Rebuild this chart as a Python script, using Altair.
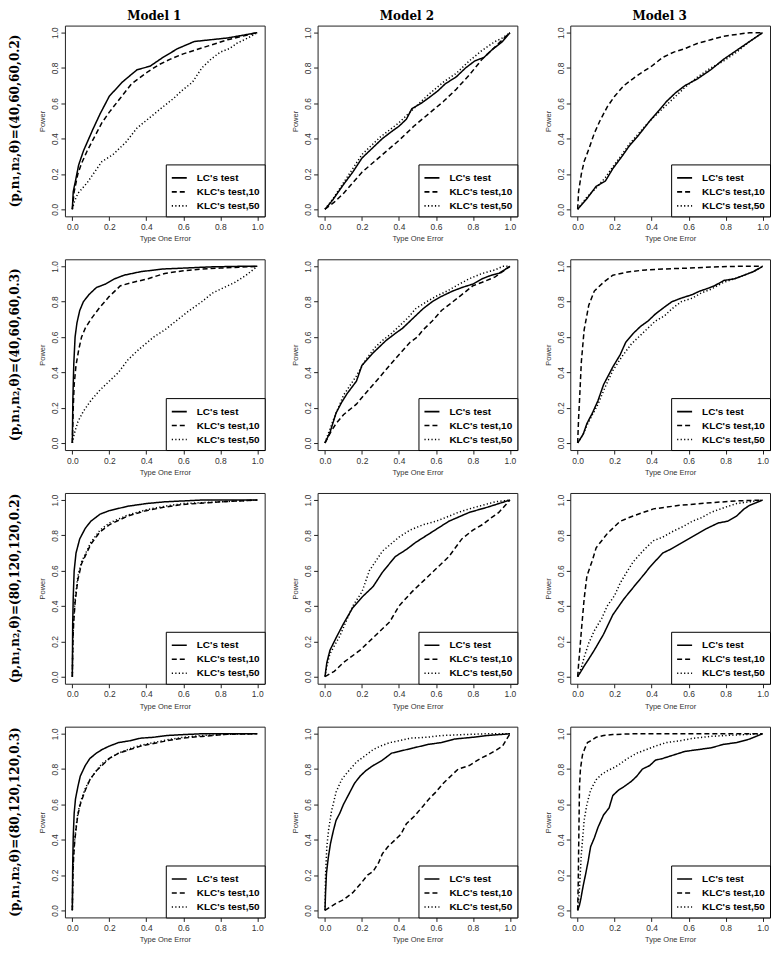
import altair as alt
import pandas as pd

TESTS = ["LC's test", "KLC's test,10", "KLC's test,50"]
MODELS = ["Model 1", "Model 2", "Model 3"]
SETTINGS = [
    "(p,n\u2081,n\u2082,\u03b8)=(40,60,60,0.2)",
    "(p,n\u2081,n\u2082,\u03b8)=(40,60,60,0.3)",
    "(p,n\u2081,n\u2082,\u03b8)=(80,120,120,0.2)",
    "(p,n\u2081,n\u2082,\u03b8)=(80,120,120,0.3)",
]
TICKS = [0.0, 0.2, 0.4, 0.6, 0.8, 1.0]

# ---------------- Row 1, Model 1 ----------------
R1M1_LC_X = [0, 0.005, 0.017, 0.034, 0.06, 0.085, 0.11, 0.15, 0.2, 0.27, 0.35, 0.42, 0.49, 0.57, 0.66, 0.75, 0.84, 0.92, 1]
R1M1_LC_Y = [0, 0.1, 0.16, 0.25, 0.33, 0.39, 0.45, 0.54, 0.64, 0.72, 0.79, 0.81, 0.86, 0.91, 0.95, 0.96, 0.97, 0.985, 1]
R1M1_K10_X = [0, 0.01, 0.03, 0.05, 0.08, 0.12, 0.16, 0.2, 0.26, 0.32, 0.41, 0.47, 0.53, 0.6, 0.66, 0.75, 0.84, 0.92, 1]
R1M1_K10_Y = [0, 0.1, 0.2, 0.26, 0.33, 0.41, 0.49, 0.55, 0.63, 0.71, 0.78, 0.82, 0.85, 0.88, 0.9, 0.93, 0.96, 0.98, 1]
R1M1_K50_X = [0, 0.01, 0.03, 0.08, 0.12, 0.16, 0.22, 0.29, 0.35, 0.42, 0.49, 0.55, 0.59, 0.65, 0.7, 0.75, 0.8, 0.85, 0.89, 0.95, 1]
R1M1_K50_Y = [0, 0.04, 0.09, 0.15, 0.21, 0.27, 0.31, 0.38, 0.46, 0.52, 0.58, 0.63, 0.67, 0.72, 0.8, 0.85, 0.89, 0.91, 0.94, 0.97, 1]

# ---------------- Row 1, Model 2 ----------------
R1M2_LC_X = [0, 0.04, 0.1, 0.15, 0.2, 0.25, 0.31, 0.36, 0.4, 0.44, 0.47, 0.52, 0.56, 0.61, 0.65, 0.71, 0.76, 0.81, 0.86, 0.9, 0.96, 1]
R1M2_LC_Y = [0, 0.05, 0.14, 0.21, 0.29, 0.34, 0.4, 0.44, 0.47, 0.51, 0.57, 0.6, 0.63, 0.67, 0.71, 0.75, 0.8, 0.84, 0.86, 0.9, 0.95, 1]
R1M2_K10_X = [0, 0.05, 0.1, 0.15, 0.2, 0.3, 0.4, 0.48, 0.56, 0.64, 0.71, 0.78, 0.85, 0.92, 1]
R1M2_K10_Y = [0, 0.04, 0.09, 0.15, 0.21, 0.3, 0.39, 0.47, 0.54, 0.61, 0.68, 0.76, 0.85, 0.92, 1]
R1M2_K50_X = [0, 0.05, 0.1, 0.2, 0.3, 0.4, 0.48, 0.56, 0.64, 0.71, 0.78, 0.85, 0.92, 0.96, 1]
R1M2_K50_Y = [0, 0.07, 0.15, 0.31, 0.41, 0.49, 0.57, 0.65, 0.72, 0.77, 0.84, 0.9, 0.95, 0.97, 1]

# ---------------- Row 1, Model 3 ----------------
R1M3_LC_X = [0, 0.05, 0.1, 0.15, 0.19, 0.24, 0.28, 0.33, 0.39, 0.44, 0.48, 0.53, 0.58, 0.65, 0.72, 0.79, 0.86, 0.93, 1]
R1M3_LC_Y = [0, 0.06, 0.13, 0.16, 0.23, 0.3, 0.36, 0.42, 0.5, 0.56, 0.61, 0.66, 0.7, 0.74, 0.79, 0.85, 0.9, 0.95, 1]
R1M3_K10_X = [0, 0.005, 0.02, 0.035, 0.06, 0.09, 0.12, 0.16, 0.2, 0.25, 0.3, 0.34, 0.4, 0.46, 0.52, 0.58, 0.65, 0.72, 0.79, 0.86, 0.93, 1]
R1M3_K10_Y = [0, 0.1, 0.2, 0.27, 0.34, 0.43, 0.5, 0.58, 0.64, 0.7, 0.74, 0.77, 0.81, 0.86, 0.89, 0.91, 0.94, 0.96, 0.98, 0.99, 1, 1]
R1M3_K50_X = [0, 0.05, 0.1, 0.15, 0.19, 0.24, 0.28, 0.33, 0.39, 0.44, 0.48, 0.53, 0.58, 0.65, 0.72, 0.79, 0.86, 0.93, 1]
R1M3_K50_Y = [0, 0.07, 0.12, 0.18, 0.24, 0.31, 0.37, 0.43, 0.5, 0.55, 0.59, 0.64, 0.69, 0.75, 0.8, 0.84, 0.89, 0.95, 1]

# ---------------- Row 2, Model 1 ----------------
R2M1_LC_X = [0, 0.003, 0.008, 0.015, 0.025, 0.04, 0.06, 0.09, 0.13, 0.18, 0.23, 0.28, 0.37, 0.49, 0.6, 0.75, 0.9, 1]
R2M1_LC_Y = [0, 0.25, 0.45, 0.6, 0.68, 0.75, 0.8, 0.84, 0.88, 0.9, 0.93, 0.95, 0.97, 0.985, 0.99, 0.997, 1, 1]
R2M1_K10_X = [0, 0.005, 0.01, 0.02, 0.035, 0.05, 0.07, 0.1, 0.15, 0.2, 0.26, 0.33, 0.41, 0.5, 0.6, 0.7, 0.8, 0.9, 1]
R2M1_K10_Y = [0, 0.2, 0.33, 0.44, 0.53, 0.6, 0.65, 0.7, 0.77, 0.83, 0.89, 0.91, 0.93, 0.96, 0.975, 0.985, 0.99, 0.995, 1]
R2M1_K50_X = [0, 0.01, 0.03, 0.06, 0.1, 0.15, 0.2, 0.25, 0.3, 0.36, 0.44, 0.5, 0.56, 0.62, 0.7, 0.76, 0.82, 0.88, 0.94, 1]
R2M1_K50_Y = [0, 0.05, 0.12, 0.18, 0.24, 0.3, 0.35, 0.4, 0.47, 0.53, 0.6, 0.64, 0.69, 0.74, 0.8, 0.85, 0.88, 0.91, 0.95, 1]

# ---------------- Row 2, Model 2 ----------------
R2M2_LC_X = [0, 0.027, 0.06, 0.09, 0.12, 0.17, 0.2, 0.26, 0.33, 0.38, 0.42, 0.46, 0.53, 0.58, 0.63, 0.69, 0.74, 0.8, 0.85, 0.9, 0.94, 1]
R2M2_LC_Y = [0, 0.06, 0.17, 0.23, 0.28, 0.35, 0.44, 0.51, 0.58, 0.62, 0.65, 0.69, 0.76, 0.8, 0.83, 0.86, 0.88, 0.9, 0.93, 0.95, 0.96, 1]
R2M2_K10_X = [0, 0.03, 0.06, 0.1, 0.17, 0.21, 0.26, 0.31, 0.35, 0.4, 0.46, 0.5, 0.53, 0.58, 0.63, 0.68, 0.74, 0.8, 0.85, 0.92, 1]
R2M2_K10_Y = [0, 0.06, 0.11, 0.16, 0.22, 0.27, 0.33, 0.39, 0.44, 0.5, 0.57, 0.6, 0.64, 0.69, 0.75, 0.79, 0.84, 0.89, 0.91, 0.94, 1]
R2M2_K50_X = [0, 0.02, 0.045, 0.1, 0.17, 0.22, 0.27, 0.31, 0.36, 0.4, 0.45, 0.49, 0.55, 0.6, 0.66, 0.71, 0.78, 0.85, 0.92, 0.96, 1]
R2M2_K50_Y = [0, 0.06, 0.13, 0.27, 0.38, 0.47, 0.54, 0.58, 0.62, 0.66, 0.71, 0.76, 0.8, 0.83, 0.86, 0.89, 0.93, 0.96, 0.98, 1, 1]

# ---------------- Row 2, Model 3 ----------------
R2M3_LC_X = [0, 0.03, 0.05, 0.08, 0.11, 0.14, 0.19, 0.23, 0.26, 0.3, 0.34, 0.38, 0.42, 0.47, 0.51, 0.56, 0.62, 0.66, 0.69, 0.74, 0.79, 0.85, 0.9, 0.95, 1]
R2M3_LC_Y = [0, 0.05, 0.11, 0.17, 0.24, 0.33, 0.43, 0.5, 0.57, 0.62, 0.66, 0.69, 0.73, 0.77, 0.8, 0.82, 0.84, 0.86, 0.87, 0.89, 0.92, 0.93, 0.95, 0.97, 1]
R2M3_K10_X = [0, 0.005, 0.01, 0.02, 0.035, 0.06, 0.09, 0.14, 0.19, 0.28, 0.37, 0.46, 0.6, 0.72, 0.86, 1]
R2M3_K10_Y = [0, 0.14, 0.24, 0.46, 0.64, 0.78, 0.86, 0.91, 0.95, 0.97, 0.98, 0.985, 0.99, 0.996, 1, 1]
R2M3_K50_X = [0, 0.03, 0.05, 0.08, 0.11, 0.15, 0.19, 0.24, 0.29, 0.34, 0.38, 0.42, 0.47, 0.51, 0.56, 0.62, 0.67, 0.72, 0.79, 0.85, 0.9, 0.95, 1]
R2M3_K50_Y = [0, 0.05, 0.1, 0.16, 0.22, 0.32, 0.41, 0.49, 0.56, 0.61, 0.65, 0.69, 0.72, 0.76, 0.8, 0.82, 0.85, 0.87, 0.91, 0.93, 0.95, 0.97, 1]

# ---------------- Row 3, Model 1 ----------------
R3M1_LC_X = [0, 0.002, 0.005, 0.01, 0.02, 0.04, 0.07, 0.1, 0.15, 0.2, 0.3, 0.4, 0.5, 0.7, 1]
R3M1_LC_Y = [0, 0.3, 0.45, 0.6, 0.7, 0.78, 0.84, 0.88, 0.92, 0.94, 0.965, 0.98, 0.99, 1, 1]
R3M1_K10_X = [0, 0.003, 0.007, 0.015, 0.03, 0.05, 0.1, 0.15, 0.2, 0.3, 0.4, 0.5, 0.6, 0.8, 1]
R3M1_K10_Y = [0, 0.2, 0.3, 0.42, 0.55, 0.64, 0.75, 0.82, 0.86, 0.91, 0.94, 0.96, 0.975, 0.99, 1]
R3M1_K50_X = [0, 0.003, 0.007, 0.015, 0.03, 0.05, 0.1, 0.15, 0.2, 0.3, 0.4, 0.5, 0.6, 0.8, 1]
R3M1_K50_Y = [0, 0.22, 0.32, 0.44, 0.57, 0.65, 0.76, 0.83, 0.87, 0.915, 0.945, 0.965, 0.98, 0.99, 1]

# ---------------- Row 3, Model 2 ----------------
R3M2_LC_X = [0, 0.01, 0.027, 0.06, 0.1, 0.15, 0.2, 0.26, 0.31, 0.38, 0.44, 0.49, 0.58, 0.67, 0.78, 0.88, 0.94, 1]
R3M2_LC_Y = [0, 0.08, 0.15, 0.22, 0.3, 0.39, 0.45, 0.51, 0.59, 0.68, 0.72, 0.76, 0.82, 0.88, 0.93, 0.96, 0.98, 1]
R3M2_K10_X = [0, 0.05, 0.1, 0.19, 0.28, 0.35, 0.4, 0.47, 0.56, 0.67, 0.74, 0.8, 0.85, 0.9, 0.94, 1]
R3M2_K10_Y = [0, 0.03, 0.08, 0.15, 0.24, 0.31, 0.4, 0.48, 0.57, 0.68, 0.78, 0.83, 0.86, 0.9, 0.93, 1]
R3M2_K50_X = [0, 0.01, 0.027, 0.08, 0.15, 0.2, 0.24, 0.31, 0.4, 0.46, 0.53, 0.6, 0.65, 0.72, 0.78, 0.85, 0.92, 1]
R3M2_K50_Y = [0, 0.06, 0.13, 0.23, 0.4, 0.48, 0.6, 0.71, 0.79, 0.83, 0.86, 0.88, 0.9, 0.93, 0.95, 0.97, 0.99, 1]

# ---------------- Row 3, Model 3 ----------------
R3M3_LC_X = [0, 0.018, 0.035, 0.06, 0.09, 0.14, 0.19, 0.25, 0.32, 0.36, 0.39, 0.46, 0.5, 0.55, 0.6, 0.65, 0.7, 0.76, 0.81, 0.86, 0.9, 0.93, 1]
R3M3_LC_Y = [0, 0.03, 0.06, 0.1, 0.15, 0.24, 0.35, 0.44, 0.53, 0.58, 0.62, 0.7, 0.72, 0.75, 0.78, 0.81, 0.84, 0.87, 0.88, 0.91, 0.95, 0.97, 1]
R3M3_K10_X = [0, 0.005, 0.01, 0.02, 0.035, 0.05, 0.08, 0.1, 0.13, 0.16, 0.23, 0.3, 0.41, 0.55, 0.72, 0.86, 1]
R3M3_K10_Y = [0, 0.07, 0.13, 0.26, 0.44, 0.57, 0.66, 0.73, 0.77, 0.81, 0.88, 0.91, 0.95, 0.97, 0.985, 0.995, 1]
R3M3_K50_X = [0, 0.02, 0.035, 0.06, 0.09, 0.13, 0.16, 0.2, 0.23, 0.27, 0.3, 0.36, 0.41, 0.46, 0.51, 0.57, 0.62, 0.67, 0.72, 0.8, 0.86, 0.93, 1]
R3M3_K50_Y = [0, 0.05, 0.11, 0.19, 0.26, 0.33, 0.4, 0.46, 0.53, 0.6, 0.65, 0.72, 0.77, 0.79, 0.82, 0.85, 0.88, 0.9, 0.93, 0.96, 0.98, 0.99, 1]

# ---------------- Row 4, Model 1 ----------------
R4M1_LC_X = [0, 0.002, 0.005, 0.01, 0.017, 0.03, 0.043, 0.07, 0.095, 0.13, 0.16, 0.2, 0.25, 0.31, 0.37, 0.44, 0.51, 0.6, 0.7, 1]
R4M1_LC_Y = [0, 0.25, 0.42, 0.55, 0.63, 0.7, 0.76, 0.82, 0.86, 0.89, 0.91, 0.93, 0.95, 0.96, 0.975, 0.98, 0.99, 0.995, 1, 1]
R4M1_K10_X = [0, 0.003, 0.007, 0.012, 0.02, 0.03, 0.043, 0.07, 0.095, 0.13, 0.16, 0.2, 0.25, 0.31, 0.37, 0.44, 0.51, 0.6, 0.7, 0.84, 1]
R4M1_K10_Y = [0, 0.2, 0.3, 0.38, 0.46, 0.54, 0.6, 0.68, 0.74, 0.79, 0.82, 0.86, 0.89, 0.91, 0.93, 0.945, 0.96, 0.975, 0.985, 0.997, 1]
R4M1_K50_X = [0, 0.003, 0.007, 0.012, 0.02, 0.03, 0.043, 0.07, 0.095, 0.13, 0.16, 0.2, 0.25, 0.31, 0.37, 0.44, 0.51, 0.6, 0.7, 0.84, 1]
R4M1_K50_Y = [0, 0.22, 0.32, 0.39, 0.47, 0.55, 0.61, 0.69, 0.74, 0.79, 0.83, 0.86, 0.89, 0.915, 0.935, 0.95, 0.965, 0.98, 0.99, 0.997, 1]

# ---------------- Row 4, Model 2 ----------------
R4M2_LC_X = [0, 0.003, 0.008, 0.018, 0.03, 0.045, 0.06, 0.08, 0.1, 0.13, 0.16, 0.19, 0.22, 0.26, 0.31, 0.36, 0.4, 0.48, 0.56, 0.63, 0.7, 0.8, 0.88, 1]
R4M2_LC_Y = [0, 0.1, 0.21, 0.3, 0.38, 0.45, 0.51, 0.55, 0.6, 0.66, 0.72, 0.76, 0.79, 0.82, 0.85, 0.89, 0.9, 0.92, 0.94, 0.95, 0.97, 0.98, 0.99, 1]
R4M2_K10_X = [0, 0.03, 0.06, 0.1, 0.15, 0.2, 0.23, 0.26, 0.29, 0.31, 0.34, 0.38, 0.41, 0.44, 0.48, 0.53, 0.57, 0.6, 0.64, 0.67, 0.72, 0.78, 0.84, 0.88, 0.93, 0.96, 1]
R4M2_K10_Y = [0, 0.02, 0.04, 0.06, 0.1, 0.16, 0.2, 0.22, 0.27, 0.32, 0.36, 0.4, 0.43, 0.49, 0.53, 0.59, 0.64, 0.67, 0.72, 0.75, 0.8, 0.82, 0.86, 0.88, 0.91, 0.93, 1]
R4M2_K50_X = [0, 0.003, 0.01, 0.02, 0.035, 0.06, 0.09, 0.12, 0.17, 0.21, 0.26, 0.3, 0.35, 0.4, 0.46, 0.55, 0.63, 0.75, 0.88, 1]
R4M2_K50_Y = [0, 0.2, 0.36, 0.46, 0.56, 0.67, 0.74, 0.78, 0.84, 0.87, 0.91, 0.93, 0.95, 0.96, 0.975, 0.98, 0.99, 0.995, 1, 1]

# ---------------- Row 4, Model 3 ----------------
R4M3_LC_X = [0, 0.01, 0.018, 0.03, 0.044, 0.057, 0.07, 0.09, 0.11, 0.14, 0.17, 0.19, 0.22, 0.25, 0.29, 0.32, 0.35, 0.39, 0.42, 0.46, 0.52, 0.58, 0.65, 0.72, 0.79, 0.86, 0.93, 1]
R4M3_LC_Y = [0, 0.03, 0.07, 0.14, 0.21, 0.28, 0.36, 0.41, 0.47, 0.54, 0.58, 0.65, 0.68, 0.7, 0.73, 0.76, 0.8, 0.82, 0.85, 0.86, 0.88, 0.9, 0.91, 0.92, 0.94, 0.95, 0.97, 1]
R4M3_K10_X = [0, 0.003, 0.005, 0.008, 0.01, 0.015, 0.026, 0.04, 0.053, 0.07, 0.1, 0.14, 0.19, 0.3, 1]
R4M3_K10_Y = [0, 0.15, 0.32, 0.55, 0.7, 0.8, 0.88, 0.92, 0.95, 0.96, 0.98, 0.99, 0.995, 1, 1]
R4M3_K50_X = [0, 0.005, 0.01, 0.02, 0.035, 0.05, 0.07, 0.1, 0.13, 0.16, 0.2, 0.23, 0.27, 0.32, 0.37, 0.42, 0.48, 0.55, 0.63, 0.72, 0.8, 0.9, 1]
R4M3_K50_Y = [0, 0.06, 0.13, 0.32, 0.51, 0.6, 0.68, 0.74, 0.77, 0.79, 0.81, 0.83, 0.86, 0.89, 0.91, 0.93, 0.95, 0.96, 0.975, 0.985, 0.99, 0.995, 1]

CURVES = {
    (0, 0): [(R1M1_LC_X, R1M1_LC_Y), (R1M1_K10_X, R1M1_K10_Y), (R1M1_K50_X, R1M1_K50_Y)],
    (0, 1): [(R1M2_LC_X, R1M2_LC_Y), (R1M2_K10_X, R1M2_K10_Y), (R1M2_K50_X, R1M2_K50_Y)],
    (0, 2): [(R1M3_LC_X, R1M3_LC_Y), (R1M3_K10_X, R1M3_K10_Y), (R1M3_K50_X, R1M3_K50_Y)],
    (1, 0): [(R2M1_LC_X, R2M1_LC_Y), (R2M1_K10_X, R2M1_K10_Y), (R2M1_K50_X, R2M1_K50_Y)],
    (1, 1): [(R2M2_LC_X, R2M2_LC_Y), (R2M2_K10_X, R2M2_K10_Y), (R2M2_K50_X, R2M2_K50_Y)],
    (1, 2): [(R2M3_LC_X, R2M3_LC_Y), (R2M3_K10_X, R2M3_K10_Y), (R2M3_K50_X, R2M3_K50_Y)],
    (2, 0): [(R3M1_LC_X, R3M1_LC_Y), (R3M1_K10_X, R3M1_K10_Y), (R3M1_K50_X, R3M1_K50_Y)],
    (2, 1): [(R3M2_LC_X, R3M2_LC_Y), (R3M2_K10_X, R3M2_K10_Y), (R3M2_K50_X, R3M2_K50_Y)],
    (2, 2): [(R3M3_LC_X, R3M3_LC_Y), (R3M3_K10_X, R3M3_K10_Y), (R3M3_K50_X, R3M3_K50_Y)],
    (3, 0): [(R4M1_LC_X, R4M1_LC_Y), (R4M1_K10_X, R4M1_K10_Y), (R4M1_K50_X, R4M1_K50_Y)],
    (3, 1): [(R4M2_LC_X, R4M2_LC_Y), (R4M2_K10_X, R4M2_K10_Y), (R4M2_K50_X, R4M2_K50_Y)],
    (3, 2): [(R4M3_LC_X, R4M3_LC_Y), (R4M3_K10_X, R4M3_K10_Y), (R4M3_K50_X, R4M3_K50_Y)],
}

PANEL_W = 200
PANEL_H = 191
SANS = "Liberation Sans"
SERIF = "DejaVu Serif"


def panel_frame(r, c):
    parts = []
    for test, (xs, ys) in zip(TESTS, CURVES[(r, c)]):
        parts.append(pd.DataFrame({"fpr": xs, "power": ys, "test": test, "idx": list(range(len(xs)))}))
    return pd.concat(parts, ignore_index=True)


x_scale = alt.Scale(domain=[-0.04, 1.04], nice=False, zero=False)
y_scale = alt.Scale(domain=[-0.04, 1.04], nice=False, zero=False)
dash_scale = alt.Scale(domain=TESTS, range=[[1, 0], [5, 3], [1.2, 2.3]])

common_axis = dict(
    values=TICKS, format=".1f", grid=False, domain=False,
    tickColor="#222", tickSize=4, tickWidth=1,
    labelFont=SANS, labelFontSize=8.5, labelColor="#333",
    labelFlush=False, labelOverlap=False,
    titleFont=SANS, titleFontSize=7.5, titleFontWeight="normal", titleColor="#333",
)
x_axis = alt.Axis(title="Type One Error", labelPadding=2, titlePadding=4, **common_axis)
y_axis = alt.Axis(title="Power", labelAngle=270, labelAlign="center", labelBaseline="bottom",
                  labelPadding=1, titlePadding=4, **common_axis)

legend = alt.Legend(
    title=None, orient="bottom-right", offset=0, padding=5,
    strokeColor="black", fillColor="white", cornerRadius=0,
    symbolType="stroke", symbolSize=225, symbolStrokeWidth=1.6, symbolStrokeColor="black",
    labelFont=SANS, labelFontSize=10, labelFontWeight="bold", labelColor="black",
    labelOffset=9, rowPadding=0,
)


def make_panel(r, c):
    df = panel_frame(r, c)
    lines = alt.Chart(df).mark_line(color="black", strokeWidth=1.5, clip=True).encode(
        x=alt.X("fpr:Q", scale=x_scale, axis=x_axis),
        y=alt.Y("power:Q", scale=y_scale, axis=y_axis),
        strokeDash=alt.StrokeDash("test:N", scale=dash_scale, legend=legend),
        order=alt.Order("idx:Q"),
    )
    chart = lines
    if r == 0:
        top = alt.Chart(df).mark_point(opacity=0).encode(
            x=alt.X("fpr:Q", scale=x_scale, axis=alt.Axis(
                orient="top", title=MODELS[c], labels=False, ticks=False, domain=False, grid=False,
                titleFont=SERIF, titleFontSize=12, titleFontWeight="bold", titleColor="black",
                titleX=89, titleY=-3, titleBaseline="bottom", titleAlign="center")),
        )
        chart = alt.layer(lines, top).resolve_axis(x="independent")
    chart = chart.properties(width=PANEL_W, height=PANEL_H)
    if c == 0:
        chart = chart.properties(title=alt.TitleParams(
            SETTINGS[r], orient="left", anchor="middle", frame="group",
            font=SERIF, fontSize=12, fontWeight="bold", color="black", offset=17))
    return chart


panels = [make_panel(r, c) for r in range(4) for c in range(3)]

chart = alt.concat(
    *panels, columns=3, spacing={"row": 43, "column": 53}, bounds="flush"
).resolve_scale(strokeDash="independent").resolve_legend(strokeDash="independent").properties(
    padding=0
).configure_view(stroke="#222", strokeWidth=1)

chart.save("out.html", embed_options={"renderer": "svg", "actions": False})
